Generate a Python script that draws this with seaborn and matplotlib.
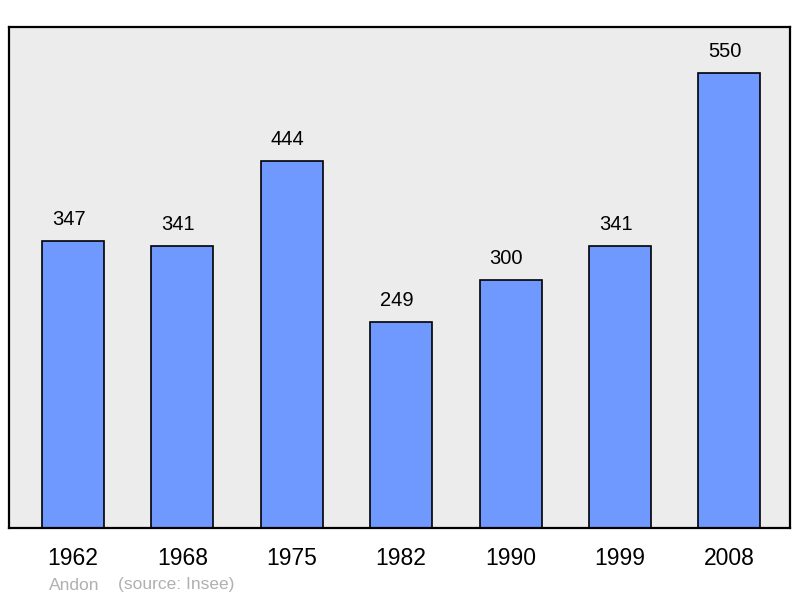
import matplotlib
matplotlib.use('Agg')
import matplotlib.pyplot as plt
import pandas as pd
import seaborn as sns

years = ['1962', '1968', '1975', '1982', '1990', '1999', '2008']
population = [347, 341, 444, 249, 300, 341, 550]

df = pd.DataFrame({'year': years, 'pop': population})

plt.rcParams['font.family'] = ['Liberation Sans', 'DejaVu Sans']

fig = plt.figure(figsize=(8, 5.98), dpi=100)
ax = fig.add_axes([9 / 800, 1 - 528 / 598, 781 / 800, 501 / 598])
ax.set_facecolor('#ececec')

sns.barplot(data=df, x='year', y='pop', color='#7099ff', saturation=1,
            width=0.567, edgecolor='black', linewidth=1.2, ax=ax)

# value labels sit a little left of the bar centre, as in the original
for i, v in enumerate(population):
    ax.text(i - 0.04, v + 15, str(v), ha='center', va='bottom', fontsize=14.5, color='black')

ax.set_xlim(-0.585, 6.555)
ax.set_ylim(0, 606)
ax.set_yticks([])
ax.set_xlabel('')
ax.set_ylabel('')
ax.tick_params(axis='x', length=0, pad=14, labelsize=16.5)
for s in ax.spines.values():
    s.set_linewidth(1.6)
    s.set_color('black')

fig.text(49 / 800, 1 - 585 / 598, 'Andon', color='#b0b0b0', fontsize=12.5, va='center')
fig.text(118 / 800, 1 - 585 / 598, '(source: Insee)', color='#b0b0b0', fontsize=12.5, va='center')

fig.savefig('out.png', dpi=100)
